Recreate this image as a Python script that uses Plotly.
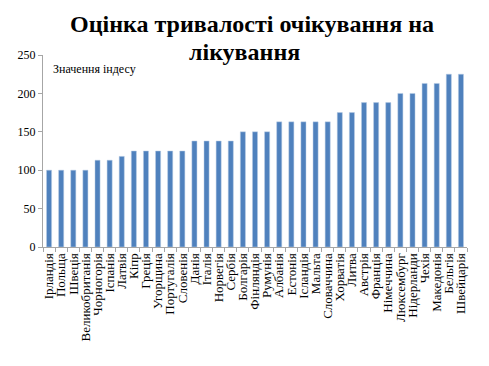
import plotly.graph_objects as go

countries = ["Ірландія", "Польща", "Швеція", "Великобританія", "Чорногорія", "Іспанія",
             "Латвія", "Кіпр", "Греція", "Угорщина", "Португалія", "Словенія", "Данія",
             "Італія", "Норвегія", "Сербія", "Болгарія", "Фінляндія", "Румунія", "Албанія",
             "Естонія", "Ісландія", "Мальта", "Словаччина", "Хорватія", "Литва", "Австрія",
             "Франція", "Німеччина", "Люксембург", "Нідерланди", "Чехія", "Македонія",
             "Бельгія", "Швейцарія"]
values = [100, 100, 100, 100, 113, 113, 118, 125, 125, 125, 125, 125, 138, 138, 138, 138,
          150, 150, 150, 163, 163, 163, 163, 163, 175, 175, 188, 188, 188, 200, 200, 213,
          213, 225, 225]
y_ticks = [0, 50, 100, 150, 200, 250]

SERIF = "Liberation Serif, Times New Roman, serif"
AXIS = "#A6A6A6"

# page has an 8px body offset; plot area target: x 43..467, y 55..247
L, R, T, B = 35, 30, 47, 127
PW = 489 - L - R
PH = 366 - T - B


def px(x):
    return (x - 8 - L) / PW


def py(y):
    return 1 - (y - 8 - T) / PH


fig = go.Figure(go.Bar(x=countries, y=values,
                       marker=dict(color="#4F81BD", line=dict(width=0.5, color="#B9CDE5")),
                       width=0.42))

fig.update_layout(
    width=489, height=366,
    margin=dict(l=L, r=R, t=T, b=B, autoexpand=False),
    paper_bgcolor="white", plot_bgcolor="white",
    showlegend=False,
    font=dict(family=SERIF, color="black"),
    annotations=[
        dict(text="<b>Оцінка тривалості очікування на</b>", xref="paper", yref="paper",
             x=px(252), y=py(9), xanchor="center", yanchor="top",
             showarrow=False, font=dict(family=SERIF, size=24, color="black")),
        dict(text="<b>лікування</b>", xref="paper", yref="paper",
             x=px(244), y=py(37), xanchor="center", yanchor="top",
             showarrow=False, font=dict(family=SERIF, size=24, color="black")),
        dict(text="Значення індесу", xref="paper", yref="paper",
             x=px(51), y=py(60), xanchor="left", yanchor="top",
             showarrow=False, font=dict(family=SERIF, size=12, color="black")),
    ],
)
fig.update_xaxes(tickmode="array", tickvals=countries, ticktext=countries,
                 tickangle=-90, tickfont=dict(family=SERIF, size=13, color="black"),
                 showline=True, linecolor=AXIS, linewidth=1, automargin=False,
                 ticks="outside", ticklen=4, tickcolor=AXIS, tickson="boundaries",
                 showgrid=False)
fig.update_yaxes(range=[0, 250], tickvals=y_ticks, tickfont=dict(family=SERIF, size=12, color="black"),
                 showline=True, linecolor=AXIS, linewidth=1, automargin=False,
                 ticks="outside", ticklen=4, tickcolor=AXIS, showgrid=False, zeroline=False)

fig.write_html("out.html")
